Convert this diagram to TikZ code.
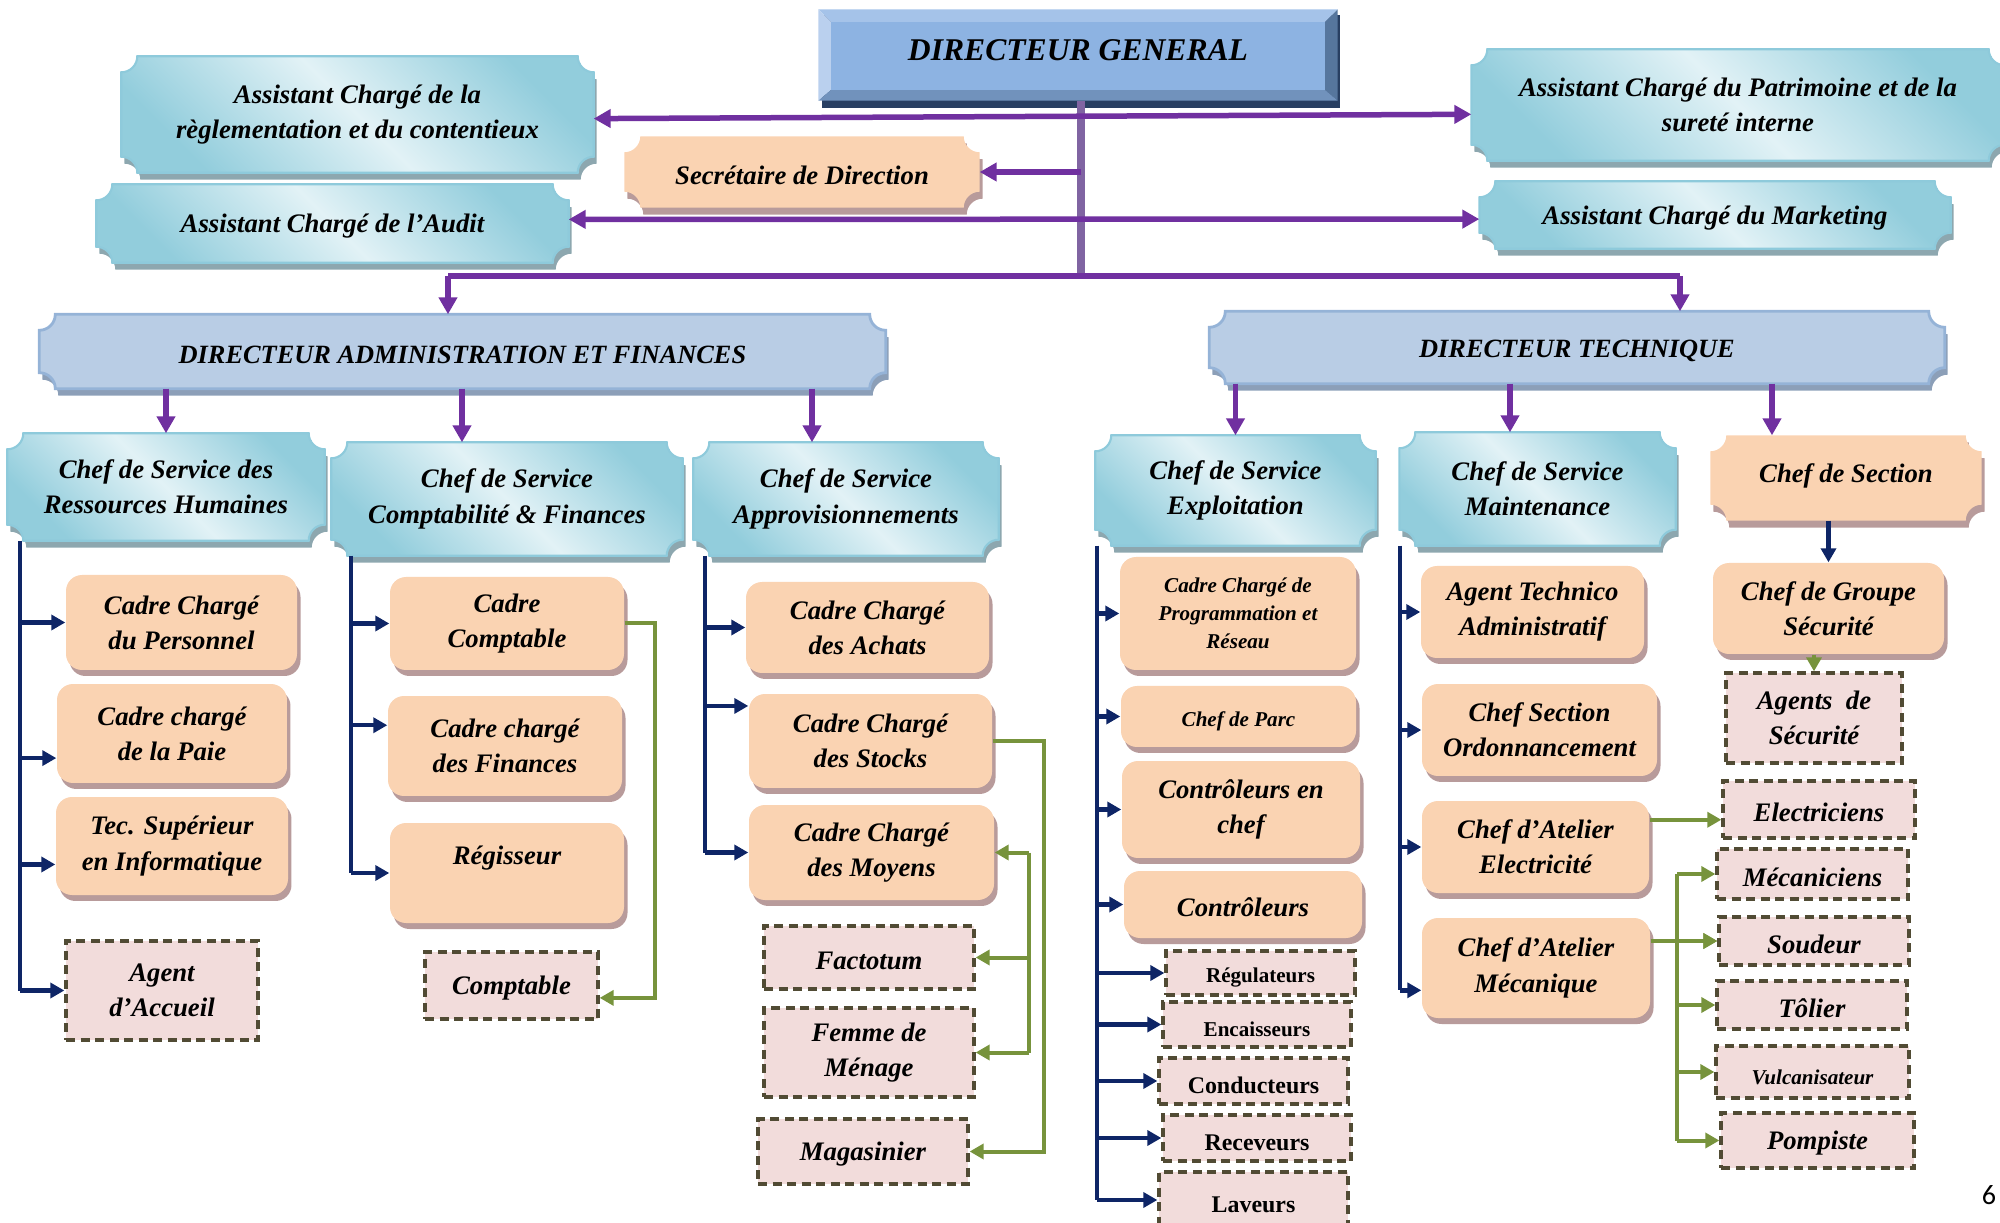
\documentclass[tikz,border=0pt]{standalone}
\usepackage{fontspec}
\setmainfont{Liberation Serif}
\newfontfamily\pagefont{Carlito}
\usetikzlibrary{calc}
\usetikzlibrary{positioning}
\usetikzlibrary{shadows,backgrounds}
\usetikzlibrary{arrows.meta}

\definecolor{orgpurple}{HTML}{7030A0}
\definecolor{stempurple}{HTML}{8064A2}
\definecolor{orgnavy}{HTML}{0E2566}
\definecolor{orggreen}{HTML}{77933C}
\definecolor{peach}{HTML}{FAD3B2}
\definecolor{peachshadow}{HTML}{B89B9B}
\definecolor{rose}{HTML}{F2DCDB}
\definecolor{dashdark}{HTML}{514B34}
\definecolor{cyandark}{HTML}{92CDDC}
\definecolor{cyanlight}{HTML}{E2F2F6}
\definecolor{cyanborder}{HTML}{8ECADB}
\definecolor{cyanshadow}{HTML}{8DA7AF}
\definecolor{steel}{HTML}{B9CDE5}
\definecolor{steelborder}{HTML}{95B3D7}
\definecolor{steelshadow}{HTML}{8C9FB8}
\definecolor{dgface}{HTML}{8DB3E2}
\definecolor{dgtop}{HTML}{A5C3E9}
\definecolor{dgleft}{HTML}{BAD0EE}
\definecolor{dgright}{HTML}{56769D}
\definecolor{dgbottom}{HTML}{7192BC}
\definecolor{dgshadow}{HTML}{283F62}

\newcommand\plaquer{1.6mm}
\newcommand\plaquepath[1]{($(#1.south west)+(\plaquer,0)$) -- ($(#1.south east)+(-\plaquer,0)$) arc[start angle=180,end angle=90,radius=\plaquer] -- ($(#1.north east)+(0,-\plaquer)$) arc[start angle=270,end angle=180,radius=\plaquer] -- ($(#1.north west)+(\plaquer,0)$) arc[start angle=0,end angle=-90,radius=\plaquer] -- ($(#1.south west)+(0,\plaquer)$) arc[start angle=90,end angle=0,radius=\plaquer] -- cycle}
\newcommand\plaque[3]{%
  \fill[#3, transform canvas={xshift=0.3mm,yshift=-0.7mm}] \plaquepath{#1};
  \path[#2] \plaquepath{#1};}

\tikzset{
  boxsize/.style 2 args={minimum width=#1mm, minimum height=#2mm},
  boxtext/.style={font=\fontsize{7.6}{10}\selectfont\bfseries\itshape, align=center, inner sep=0pt,
    execute at begin node={\rule{0pt}{7pt}}},
  peachbox/.style={boxtext, fill=peach, rounded corners=1.6mm,
    drop shadow={shadow xshift=0.35mm, shadow yshift=-0.6mm, fill=peachshadow, opacity=1}},
  dashbox/.style={boxtext, fill=rose, draw=dashdark, line width=0.33mm, dash pattern=on 0.9mm off 0.55mm},
  cyanplaque/.style={draw=cyanborder, line width=0.6pt, top color=cyandark, bottom color=cyandark, middle color=cyanlight, shading angle=-45},
  steelplaque/.style={fill=steel, draw=steelborder, line width=0.8pt},
  peachplaque/.style={fill=peach},
  smalltext/.style={font=\fontsize{6}{8}\selectfont\bfseries\itshape},
  smallup/.style={font=\fontsize{6}{8}\selectfont\bfseries},
  midup/.style={font=\fontsize{6.8}{8}\selectfont\bfseries},
  greenline/.style={draw=orggreen, line width=0.4mm},
  navyline/.style={draw=orgnavy, line width=0.45mm},
  purpleline/.style={draw=orgpurple, line width=0.55mm},
}

\begin{document}
\begin{tikzpicture}[x=0.1mm, y=0.1mm, >={Triangle[length=1.4mm,width=1.5mm]}]
    \useasboundingbox (0,0) rectangle (2000,-1223);

    % directors and assistants
    \begin{scope}[every node/.style={boxtext}]
        \node[boxsize={51.8}{9.0}, font=\fontsize{9}{11}\selectfont\bfseries\itshape, text depth=4pt] (dg) at (1078,-55) {DIRECTEUR GENERAL};
        \node[boxsize={47.1}{11.5}] (asr) at (357.5,-114.5) {Assistant Chargé de la\\règlementation et du contentieux};
        \node[boxsize={35.4}{7.0}] (sec) at (802,-172) {Secrétaire de Direction};
        \node[boxsize={47.1}{7.7}] (aud) at (332.5,-223.5) {Assistant Chargé de l’Audit};
        \node[boxsize={53.2}{11.0}] (asp) at (1738,-105) {Assistant Chargé du Patrimoine et de la\\sureté interne};
        \node[boxsize={47.0}{6.6}] (mkt) at (1715,-215) {Assistant Chargé du Marketing};
        \node[boxsize={84.5}{7.3}, font=\fontsize{7.5}{10}\selectfont\bfseries\itshape] (daf) at (462.5,-351.5) {DIRECTEUR ADMINISTRATION ET FINANCES};
        \node[boxsize={73.4}{7.1}, font=\fontsize{7.5}{10}\selectfont\bfseries\itshape] (dt) at (1577,-347.5) {DIRECTEUR TECHNIQUE};
        \node[boxsize={31.6}{10.6}] (rh) at (166,-487) {Chef de Service des\\Ressources Humaines};
        \node[boxsize={35.0}{11.2}] (cf) at (507,-499) {Chef de Service\\Comptabilité \& Finances};
        \node[boxsize={30.4}{11.2}] (ap) at (846,-499) {Chef de Service\\Approvisionnements};
        \node[boxsize={27.9}{10.9}] (ex) at (1235.5,-490.5) {Chef de Service\\Exploitation};
        \node[boxsize={27.5}{11.2}] (mt) at (1537.5,-489) {Chef de Service\\Maintenance};
        \node[boxsize={27.0}{8.4}, text depth=4.5pt] (sect) at (1846,-478) {Chef de Section};
    \end{scope}

    % cadres and chefs
    \begin{scope}[every node/.style={peachbox}]
        \node[boxsize={23.1}{9.5}] (ccp) at (181.5,-622.5) {Cadre Chargé\\du Personnel};
        \node[boxsize={23.0}{9.9}] (cpaie) at (172,-733.5) {Cadre chargé\\de la Paie};
        \node[boxsize={23.2}{9.8}] (tsi) at (172,-846) {Tec. Supérieur\\en Informatique};
        \node[boxsize={23.4}{9.3}] (ccpt) at (507,-623.5) {Cadre\\Comptable};
        \node[boxsize={23.4}{10.0}] (ccf) at (505,-746) {Cadre chargé\\des Finances};
        \node[boxsize={23.4}{10.0}] (reg) at (507,-873) {Régisseur\\\mbox{}};
        \node[boxsize={24.3}{9.1}] (cca) at (867.5,-627.5) {Cadre Chargé\\des Achats};
        \node[boxsize={24.3}{9.4}] (ccs) at (870.5,-741) {Cadre Chargé\\des Stocks};
        \node[boxsize={24.5}{9.5}] (ccm) at (871.5,-852.5) {Cadre Chargé\\des Moyens};
        \node[boxsize={23.6}{11.3}, smalltext] (cpr) at (1238,-613.5) {Cadre Chargé de\\Programmation et\\Réseau};
        \node[boxsize={23.5}{6.1}, smalltext] (cdp) at (1238.5,-716.5) {Chef de Parc};
        \node[boxsize={23.8}{9.7}] (cec) at (1241,-809.5) {Contrôleurs en\\chef};
        \node[boxsize={23.8}{6.7}] (ctr) at (1243,-904.5) {Contrôleurs};
        \node[boxsize={22.3}{9.2}] (ata) at (1532.5,-612) {Agent Technico\\Administratif};
        \node[boxsize={23.5}{9.2}] (cso) at (1539.5,-730) {Chef Section\\Ordonnancement};
        \node[boxsize={22.7}{9.2}] (cae) at (1535.5,-847) {Chef d’Atelier\\Electricité};
        \node[boxsize={22.8}{10.0}] (cam) at (1536,-968) {Chef d’Atelier\\Mécanique};
        \node[boxsize={23.1}{9.1}] (cgs) at (1828.5,-608.5) {Chef de Groupe\\Sécurité};
    \end{scope}

    % agents
    \begin{scope}[every node/.style={dashbox}]
        \node[boxsize={19.2}{9.9}] (aa) at (162,-990.5) {Agent\\d’Accueil};
        \node[boxsize={17.3}{6.7}] (cpt) at (511.5,-985.5) {Comptable};
        \node[boxsize={21.0}{6.3}] (fac) at (869,-957.5) {Factotum};
        \node[boxsize={21.0}{8.9}] (fdm) at (869,-1052.5) {Femme de\\Ménage};
        \node[boxsize={21.0}{6.5}] (mag) at (863,-1151.5) {Magasinier};
        \node[boxsize={18.9}{4.4}, smallup] (regu) at (1260.5,-973) {Régulateurs};
        \node[boxsize={18.8}{4.5}, smallup] (enc) at (1257,-1024.5) {Encaisseurs};
        \node[boxsize={18.9}{4.6}, midup] (cond) at (1253.5,-1081) {Conducteurs};
        \node[boxsize={18.8}{4.6}, midup] (rec) at (1257,-1138) {Receveurs};
        \node[boxsize={18.9}{5.6}, midup] (lav) at (1253.5,-1200) {Laveurs};
        \node[boxsize={17.6}{9.0}] (ags) at (1814,-718) {Agents~~de\\Sécurité};
        \node[boxsize={19.2}{5.7}] (el) at (1819,-809.5) {Electriciens};
        \node[boxsize={19.1}{5.0}] (mec) at (1812.5,-874) {Mécaniciens};
        \node[boxsize={19.0}{4.8}] (sd) at (1814,-941) {Soudeur};
        \node[boxsize={19.0}{4.8}] (tol) at (1812,-1005) {Tôlier};
        \node[boxsize={19.3}{5.2}, smalltext] (vul) at (1812.5,-1072) {Vulcanisateur};
        \node[boxsize={19.3}{5.5}] (pomp) at (1817.5,-1140.5) {Pompiste};
    \end{scope}

    \node[font=\pagefont\fontsize{8}{8}\selectfont] (pg) at (1989,-1195) {6};

    % plaque shapes behind the texts
    \begin{scope}[on background layer]
        \fill[dgshadow] ($(dg.south west)+(0.4mm,-0.7mm)$) rectangle ($(dg.north east)+(0.25mm,-0.6mm)$);
        \fill[dgtop] (dg.north west) -- (dg.north east) -- ($(dg.north east)+(-1.3mm,-1.3mm)$) -- ($(dg.north west)+(1.3mm,-1.3mm)$) -- cycle;
        \fill[dgleft] (dg.north west) -- ($(dg.north west)+(1.3mm,-1.3mm)$) -- ($(dg.south west)+(1.3mm,1.1mm)$) -- (dg.south west) -- cycle;
        \fill[dgright] (dg.north east) -- (dg.south east) -- ($(dg.south east)+(-1.3mm,1.1mm)$) -- ($(dg.north east)+(-1.3mm,-1.3mm)$) -- cycle;
        \fill[dgbottom] (dg.south west) -- ($(dg.south west)+(1.3mm,1.1mm)$) -- ($(dg.south east)+(-1.3mm,1.1mm)$) -- (dg.south east) -- cycle;
        \fill[dgface] ($(dg.south west)+(1.3mm,1.1mm)$) rectangle ($(dg.north east)+(-1.3mm,-1.3mm)$);
        \plaque{asr}{cyanplaque}{cyanshadow}
        \plaque{aud}{cyanplaque}{cyanshadow}
        \plaque{asp}{cyanplaque}{cyanshadow}
        \plaque{mkt}{cyanplaque}{cyanshadow}
        \plaque{sec}{peachplaque}{peachshadow}
        \plaque{daf}{steelplaque}{steelshadow}
        \plaque{dt}{steelplaque}{steelshadow}
        \plaque{rh}{cyanplaque}{cyanshadow}
        \plaque{cf}{cyanplaque}{cyanshadow}
        \plaque{ap}{cyanplaque}{cyanshadow}
        \plaque{ex}{cyanplaque}{cyanshadow}
        \plaque{mt}{cyanplaque}{cyanshadow}
        \plaque{sect}{peachplaque}{peachshadow}
    \end{scope}

    \coordinate (stem) at (1081,0);
    \coordinate (busl) at (448,-276);
    \coordinate (busr) at (1680,-276);
    \coordinate (xcf) at (462,0);
    \coordinate (xap) at (812,0);
    \coordinate (xmt) at (1510,0);
    \coordinate (xsec) at (1772,0);
    \coordinate (rhb) at (20,0);
    \coordinate (cfb) at (351,0);
    \coordinate (apb) at (705,0);
    \coordinate (exb) at (1097,0);
    \coordinate (mtb) at (1400,0);
    \coordinate (apg) at (1029,0);
    \coordinate (mkg) at (1677,0);

    % links from the directors
    \begin{scope}[every edge/.style={purpleline}, >={Triangle[length=1.7mm,width=1.8mm]}]
        \path [-] (dg.south -| stem) edge[draw=stempurple, line width=0.75mm] (busl -| stem);
        \path [<->] (asr.359) edge (asp.182);
        \path [->] (stem |- sec.east) edge (sec.east);
        \path [<->] (aud.1) edge (mkt.181);
        \path [-] (busl) edge (busr);
        \path [->] (busl) edge (busl |- daf.north);
        \path [->] (busr) edge (busr |- dt.north);
        \path [->] (daf.south -| rh.north) edge (rh.north);
        \path [->] (daf.south -| xcf) edge (cf.north -| xcf);
        \path [->] (daf.south -| xap) edge (ap.north -| xap);
        \path [->] (dt.south -| ex.north) edge (ex.north);
        \path [->] (dt.south -| xmt) edge (mt.north -| xmt);
        \path [->] (dt.south -| xsec) edge (sect.north -| xsec);
    \end{scope}

    % links from the chefs de service
    \begin{scope}[every edge/.style={navyline}]
        \path [-] (rh.south -| rhb) edge (aa.west -| rhb);
        \path [->] (ccp.west -| rhb) edge (ccp.west);
        \path [->] (cpaie.192 -| rhb) edge (cpaie.192);
        \path [->] (tsi.189 -| rhb) edge (tsi.189);
        \path [->] (aa.west -| rhb) edge (aa.west);
        \path [-] (cf.south -| cfb) edge (reg.west -| cfb);
        \path [->] (ccpt.west -| cfb) edge (ccpt.west);
        \path [->] (ccf.170 -| cfb) edge (ccf.170);
        \path [->] (reg.west -| cfb) edge (reg.west);
        \path [-] (ap.south -| apb) edge (ccm.west -| apb);
        \path [->] (cca.west -| apb) edge (cca.west);
        \path [->] (ccs.164 -| apb) edge (ccs.164);
        \path [->] (ccm.west -| apb) edge (ccm.west);
        \path [-] (ex.south -| exb) edge (lav.west -| exb);
        \path [->] (cpr.west -| exb) edge (cpr.west);
        \path [->] (cdp.west -| exb) edge (cdp.west);
        \path [->] (cec.west -| exb) edge (cec.west);
        \path [->] (ctr.west -| exb) edge (ctr.west);
        \path [->] (regu.west -| exb) edge (regu.west);
        \path [->] (enc.west -| exb) edge (enc.west);
        \path [->] (cond.west -| exb) edge (cond.west);
        \path [->] (rec.west -| exb) edge (rec.west);
        \path [->] (lav.west -| exb) edge (lav.west);
        \path [-] (mt.south -| mtb) edge (cam.191 -| mtb);
        \path [->] (ata.west -| mtb) edge (ata.west);
        \path [->] (cso.west -| mtb) edge (cso.west);
        \path [->] (cae.west -| mtb) edge (cae.west);
        \path [->] (cam.191 -| mtb) edge (cam.191);
        \path [->] (sect.south -| cgs.north) edge (cgs.north);
    \end{scope}

    % links to the agents
    \begin{scope}[every edge/.style={greenline}]
        \draw [greenline, ->] (ccpt.east) -- ++(30,0) |- (cpt.352);
        \draw [greenline, ->] (ccs.east) -- ++(51,0) |- (mag.east);
        \path [-] (ccm.east -| apg) edge (fdm.east -| apg);
        \path [->] (ccm.east -| apg) edge (ccm.east);
        \path [->] (fac.east -| apg) edge (fac.east);
        \path [->] (fdm.east -| apg) edge (fdm.east);
        \path [->] (cgs.south -| ags.north) edge (ags.north);
        \path [->] (el.186 -| cae.east) edge (el.186);
        \path [->] (sd.west -| cam.east) edge (sd.west);
        \path [-] (mec.west -| mkg) edge (pomp.west -| mkg);
        \path [->] (mec.west -| mkg) edge (mec.west);
        \path [->] (sd.west -| mkg) edge (sd.west);
        \path [->] (tol.west -| mkg) edge (tol.west);
        \path [->] (vul.west -| mkg) edge (vul.west);
        \path [->] (pomp.west -| mkg) edge (pomp.west);
    \end{scope}
\end{tikzpicture}
\end{document}
